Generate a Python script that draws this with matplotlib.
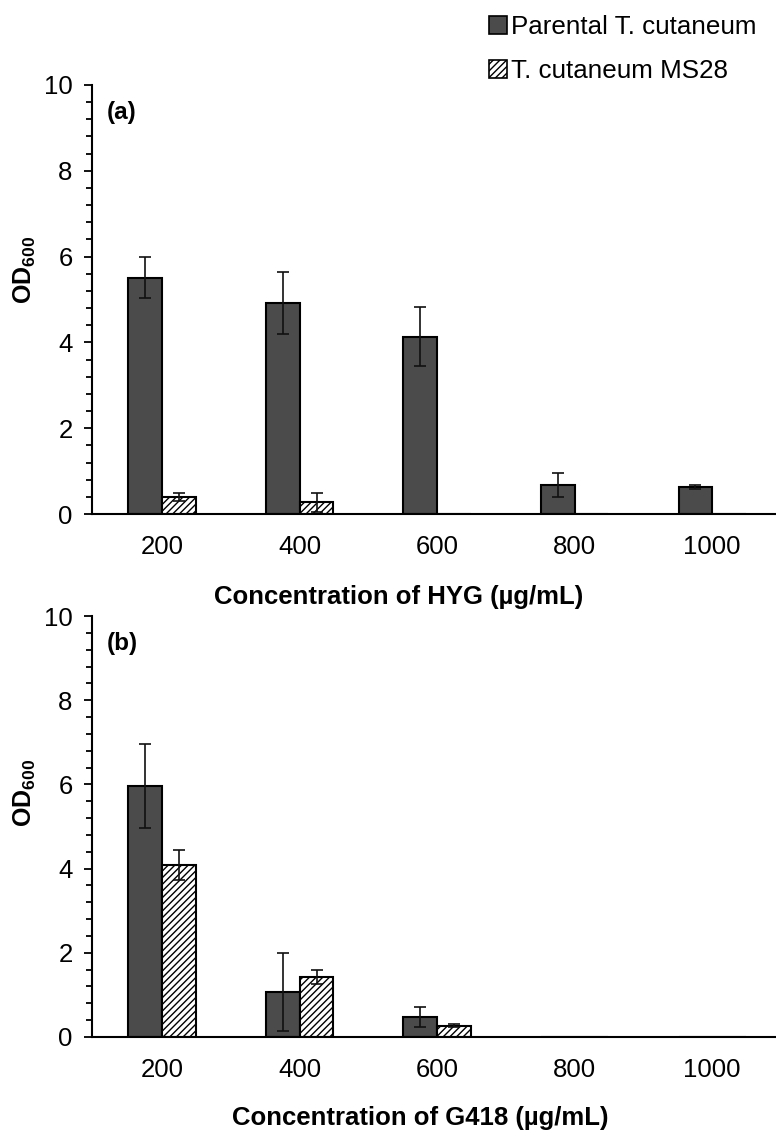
import numpy as np
import matplotlib
matplotlib.use("Agg")
import matplotlib.pyplot as plt
from matplotlib.patches import Patch
from matplotlib.ticker import MultipleLocator

plt.rcParams['font.family'] = ['Liberation Sans', 'DejaVu Sans']
plt.rcParams['mathtext.fontset'] = 'custom'
plt.rcParams['mathtext.rm'] = 'Liberation Sans'
plt.rcParams['mathtext.bf'] = 'Liberation Sans:bold'
plt.rcParams['hatch.linewidth'] = 1.0

# Concentration categories (µg/mL)
concentrations = ['200', '400', '600', '800', '1000']

# Panel (a): hygromycin
hyg_parental = [5.51, 4.92, 4.13, 0.68, 0.63]
hyg_parental_err = [0.47, 0.72, 0.69, 0.28, 0.05]
hyg_ms28 = [0.40, 0.27, 0.0, 0.0, 0.0]
hyg_ms28_err = [0.10, 0.22, 0.0, 0.0, 0.0]

# Panel (b): G418
g418_parental = [5.96, 1.07, 0.48, 0.0, 0.0]
g418_parental_err = [1.00, 0.93, 0.24, 0.0, 0.0]
g418_ms28 = [4.09, 1.43, 0.27, 0.0, 0.0]
g418_ms28_err = [0.36, 0.17, 0.03, 0.0, 0.0]

series_names = ['Parental T. cutaneum', 'T. cutaneum MS28']

W, H = 776, 1131
fig = plt.figure(figsize=(W / 100, H / 100), dpi=100)

bar_w = 0.245
dark = '#4b4b4b'
tick_fs = 18.5


def draw_panel(ax, parental, parental_err, ms28, ms28_err, tag):
    x = np.arange(len(concentrations))
    xp = x - bar_w / 2
    xm = x + bar_w / 2
    ax.bar(xp, parental, bar_w, color=dark, edgecolor='black', linewidth=1.5, zorder=2)
    ax.bar(xm, ms28, bar_w, color='white', edgecolor='black', linewidth=1.5,
           hatch='/////', zorder=2)
    for xs, vals, errs in ((xp, parental, parental_err), (xm, ms28, ms28_err)):
        vals = np.asarray(vals)
        errs = np.asarray(errs)
        keep = errs > 0
        ax.errorbar(xs[keep], vals[keep], yerr=errs[keep], fmt='none',
                    ecolor='#111111', elinewidth=1.2, capsize=4, capthick=1.2, zorder=3)
    ax.set_xlim(-0.51, 4.5)
    ax.set_ylim(0, 10)
    ax.set_xticks(x)
    ax.set_xticklabels(concentrations)
    ax.yaxis.set_major_locator(MultipleLocator(2))
    ax.yaxis.set_minor_locator(MultipleLocator(0.4))
    ax.tick_params(axis='x', length=0, pad=15, labelsize=tick_fs)
    ax.tick_params(axis='y', which='major', length=6, width=1.3, pad=8, labelsize=tick_fs,
                   direction='out')
    ax.tick_params(axis='y', which='minor', length=4, width=1.3, direction='out')
    for s in ('top', 'right'):
        ax.spines[s].set_visible(False)
    for s in ('left', 'bottom'):
        ax.spines[s].set_linewidth(1.5)
        ax.spines[s].set_color('black')
    ax.text(0.021, 0.962, tag, transform=ax.transAxes, fontsize=17.5,
            fontweight='bold', ha='left', va='top')


def px_axes(left, right, top, bottom):
    return fig.add_axes([left / W, 1 - bottom / H, (right - left) / W, (bottom - top) / H])


ax_a = px_axes(92, 781, 85, 514)
ax_b = px_axes(92, 781, 616, 1037)

draw_panel(ax_a, hyg_parental, hyg_parental_err, hyg_ms28, hyg_ms28_err, '(a)')
draw_panel(ax_b, g418_parental, g418_parental_err, g418_ms28, g418_ms28_err, '(b)')

ylab = r'$\mathbf{OD}_{\mathbf{600}}$'
fig.text(25 / W, 1 - 270 / H, ylab, rotation=90, fontsize=18, ha='center', va='center')
fig.text(25 / W, 1 - 793 / H, ylab, rotation=90, fontsize=18, ha='center', va='center')

fig.text(399 / W, 1 - 597 / H, 'Concentration of HYG (µg/mL)', fontsize=18.5,
         fontweight='bold', ha='center', va='center')
fig.text(420 / W, 1 - 1118 / H, 'Concentration of G418 (µg/mL)', fontsize=18.5,
         fontweight='bold', ha='center', va='center')

handles = [Patch(facecolor=dark, edgecolor='black', linewidth=1.2),
           Patch(facecolor='white', edgecolor='black', linewidth=1.2, hatch='/////')]
fig.legend(handles, series_names, loc='upper left',
           bbox_to_anchor=(489 / W, 1 - 15 / H), frameon=False, fontsize=18.7,
           handlelength=0.68, handleheight=0.68, handletextpad=0.15,
           labelspacing=0.78, borderpad=0, borderaxespad=0)

fig.savefig('out.png', dpi=100)
